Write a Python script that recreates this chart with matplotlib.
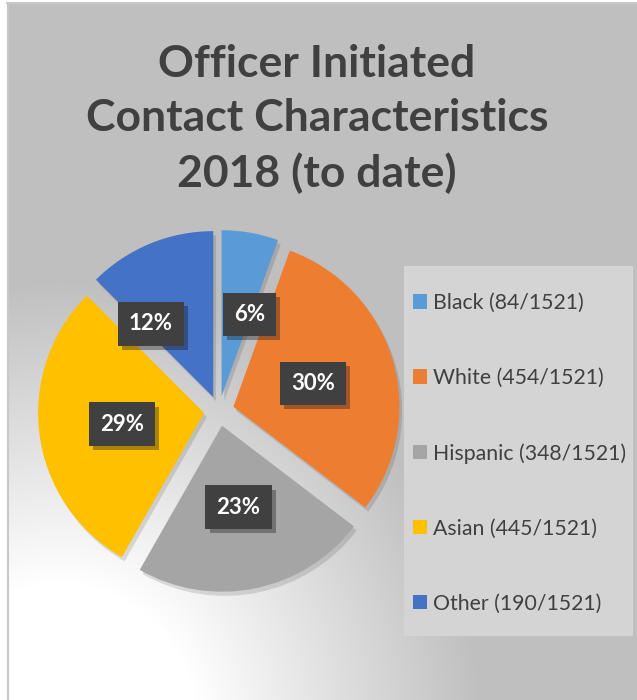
import numpy as np
import matplotlib
matplotlib.use("Agg")
import matplotlib.pyplot as plt
from matplotlib import patheffects as pe
from matplotlib.patches import Rectangle, Patch

categories = ["Black", "White", "Hispanic", "Asian", "Other"]
counts = [84, 454, 348, 445, 190]
total = 1521
colors = ["#5B9BD5", "#ED7D31", "#A5A5A5", "#FFC000", "#4472C4"]
title_lines = ["Officer Initiated", "Contact Characteristics", "2018 (to date)"]

# label placement tweaks (best-fit style): angle shift in degrees, radial fraction
label_angle_shift = [-9, 0, 0, 0, 18]
label_radius = [0.52, 0.50, 0.50, 0.50, 0.58]

W, H = 637, 700
fig = plt.figure(figsize=(W / 100, H / 100), dpi=100)

# ---- background with radial gradient ----
bg = fig.add_axes([0, 0, 1, 1])
bg.set_axis_off()
yy, xx = np.mgrid[0:H, 0:W]
cx, cy = 60, 730
d = np.sqrt(((xx - cx) / 460.0) ** 2 + ((yy - cy) / 490.0) ** 2)
t = np.clip((d - 0.3) / 0.62, 0, 1)
val = 1 - t * (1 - 191 / 255)
img = np.dstack([val, val, val])
img[:, :7] = 1
img[:3, :] = 1
bg.imshow(img, extent=[0, W, H, 0], aspect="auto", interpolation="bilinear")
bg.set_xlim(0, W)
bg.set_ylim(H, 0)
bg.plot([7.5, 7.5], [3, H], color="#C8C8C8", lw=1.5)
bg.plot([7, W], [3, 3], color="#C8C8C8", lw=1.5)
bg.add_patch(Rectangle((404, 266), 229, 370, facecolor="#D4D4D4", edgecolor="none"))

# ---- title ----
fig.text(317 / W, 1 - 119 / H, "\n".join(title_lines), ha="center", va="center",
         fontsize=32, fontweight="bold", family="Lato", color="#404040",
         linespacing=1.42, multialignment="center")

# ---- pie ----
R = 166.0
ax = fig.add_axes([(219 - 200) / W, (289 - 200) / H, 400 / W, 400 / H])
explode = [15 / R] * len(counts)
wedges, texts, autotexts = ax.pie(
    counts, colors=colors, explode=explode, startangle=90, counterclock=False,
    radius=1, autopct=lambda p: f"{round(p)}%", pctdistance=0.5,
    wedgeprops=dict(linewidth=0),
    textprops=dict(color="white", fontweight="bold", fontsize=16, family="Lato"))
for w in wedges:
    w.set_path_effects([pe.SimplePatchShadow(offset=(2, -3), shadow_rgbFace="black", alpha=0.12), pe.Normal()])
for w, at, sh, rf in zip(wedges, autotexts, label_angle_shift, label_radius):
    ang = np.deg2rad((w.theta1 + w.theta2) / 2 + sh)
    cxw, cyw = w.center
    at.set_position((cxw + rf * w.r * np.cos(ang), cyw + rf * w.r * np.sin(ang)))
    at.set_bbox(dict(boxstyle="square,pad=0.5", facecolor="#404040", edgecolor="none"))
    at.get_bbox_patch().set_path_effects([pe.SimplePatchShadow(offset=(3, -3), alpha=0.35), pe.Normal()])
ax.set_xlim(-200 / R, 200 / R)
ax.set_ylim(-200 / R, 200 / R)
ax.set_axis_off()

# ---- legend ----
handles = [Patch(facecolor=c, edgecolor="none") for c in colors]
labels = [f"{c} ({n}/{total})" for c, n in zip(categories, counts)]
leg = fig.legend(handles, labels, loc="upper left", bbox_to_anchor=(413 / W, 1 - 293 / H),
                 frameon=False, handlelength=0.65, handleheight=0.65,
                 handletextpad=0.3, labelspacing=2.59, borderpad=0, borderaxespad=0,
                 prop=dict(family="Lato", size=15.3))
for txt in leg.get_texts():
    txt.set_color("#404040")

fig.savefig("out.png", dpi=100)
